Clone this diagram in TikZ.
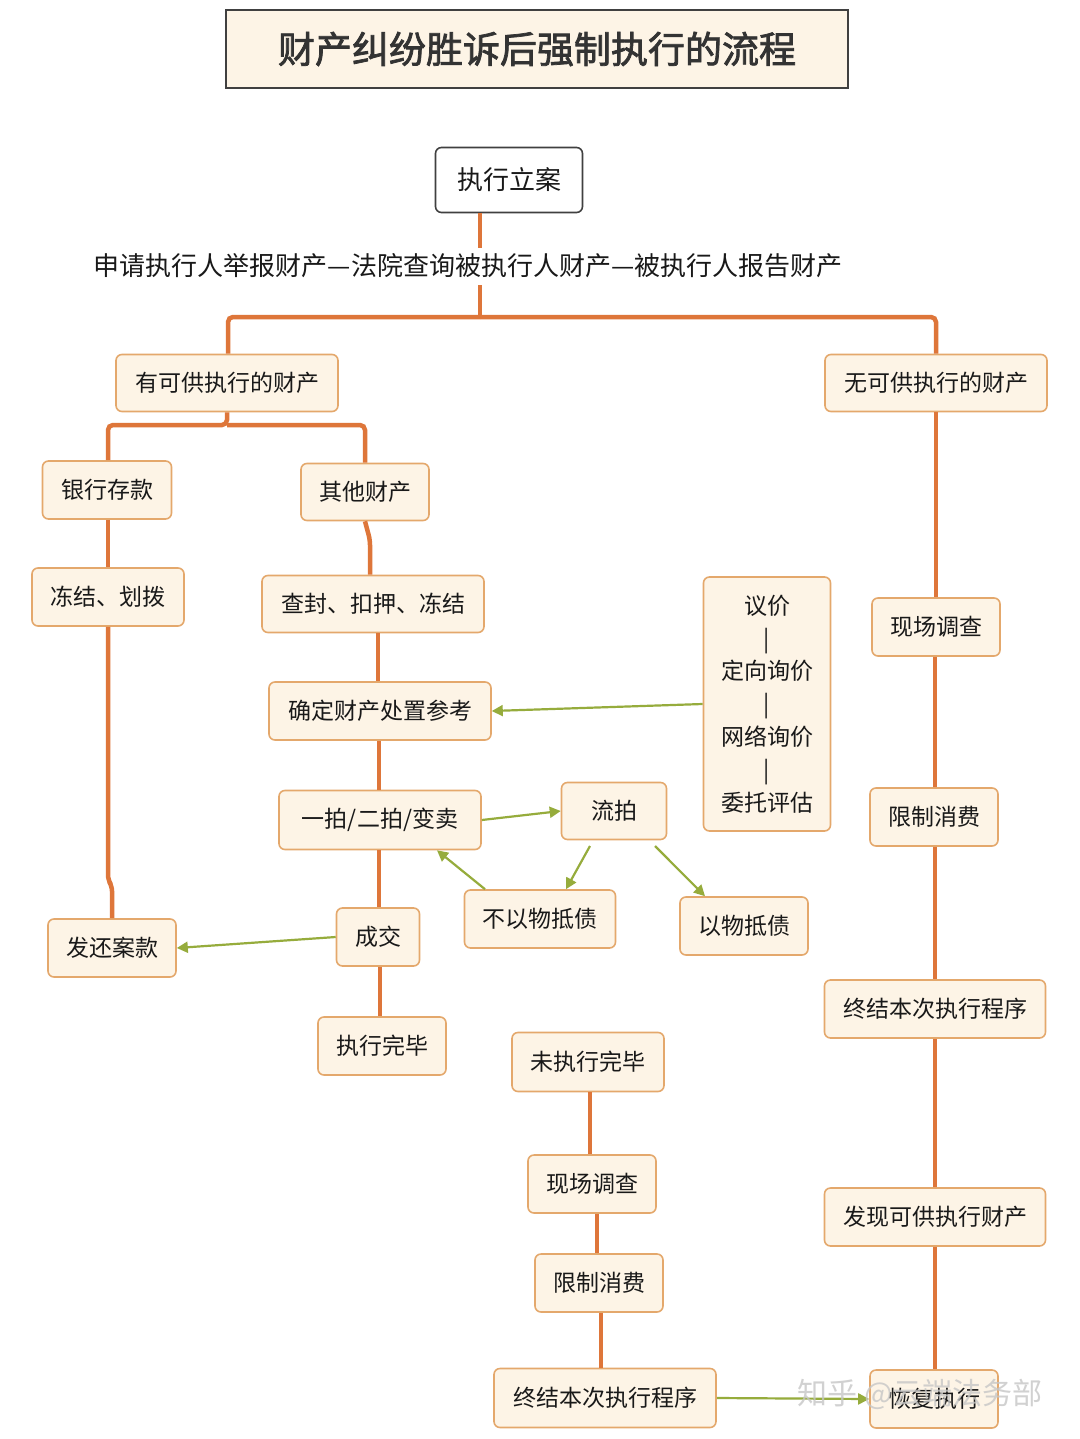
\documentclass[tikz,border=0pt]{standalone}
\usepackage{fontspec}
\setmainfont[AutoFakeBold=2]{Noto Sans CJK SC}
\usetikzlibrary{arrows.meta}
\definecolor{org}{RGB}{222,118,58}
\definecolor{bx}{RGB}{253,244,230}
\definecolor{bd}{RGB}{228,168,108}
\definecolor{grn}{RGB}{150,172,60}
\begin{document}
\begin{tikzpicture}[x=1pt,y=-1pt,
  box/.style={draw=bd,line width=1.6pt,fill=bx,rounded corners=6pt,inner sep=0pt,font=\fontsize{23}{26}\selectfont,text=black!90},
  ln/.style={draw=org,line width=4.5pt,rounded corners=5pt},
  ga/.style={draw=grn,line width=2.2pt,-{Triangle[length=11pt,width=11pt]}}]
\useasboundingbox[fill=white] (0,0) rectangle (1079,1439);
\node[draw=black!75,line width=1.8pt,fill=bx,minimum width=622,minimum height=78,inner sep=0pt,font=\fontsize{37}{40}\selectfont\bfseries,text=black!80] (title) at (537,49) {财产纠纷胜诉后强制执行的流程};
\newcommand\bx[5]{\node[box,minimum width=#3,minimum height=#4] (#1) at #2 {#5};}
\node[box,draw=black!75,fill=white,minimum width=147,minimum height=65,font=\fontsize{26}{28}\selectfont] (la) at (509,180) {执行立案};
\node[font=\fontsize{26}{28}\selectfont,text=black!90] (src) at (468,266) {申请执行人举报财产—法院查询被执行人财产—被执行人报告财产};
\bx{you}{(227,383)}{222}{57}{有可供执行的财产}
\bx{wu}{(936,383)}{222}{57}{无可供执行的财产}
\bx{yh}{(107,490)}{129}{58}{银行存款}
\bx{qt}{(365,492)}{128}{57}{其他财产}
\bx{dj}{(108,597)}{152}{58}{冻结、划拨}
\bx{cf}{(373,604)}{222}{57}{查封、扣押、冻结}
\bx{qd}{(380,711)}{222}{58}{确定财产处置参考}
\node[box,minimum width=127,minimum height=254,align=center,font=\fontsize{23}{32.8}\selectfont] (yj) at (767,704) {议价\\|\\定向询价\\|\\网络询价\\|\\委托评估};
\bx{yp}{(380,820)}{202}{59}{一拍/二拍/变卖}
\bx{lp}{(614,811)}{105}{57}{流拍}
\bx{bw}{(540,919)}{151}{58}{不以物抵债}
\bx{yw}{(744,926)}{128}{58}{以物抵债}
\bx{cj}{(378,937)}{83}{58}{成交}
\bx{fh}{(112,948)}{128}{58}{发还案款}
\bx{wb}{(382,1046)}{128}{58}{执行完毕}
\bx{wz}{(588,1062)}{152}{59}{未执行完毕}
\bx{xc}{(592,1184)}{128}{58}{现场调查}
\bx{xf}{(599,1283)}{128}{58}{限制消费}
\bx{zj}{(605,1398)}{222}{59}{终结本次执行程序}
\bx{rxc}{(936,627)}{128}{58}{现场调查}
\bx{rxf}{(934,817)}{128}{58}{限制消费}
\bx{rzj}{(935,1009)}{221}{58}{终结本次执行程序}
\bx{fx}{(935,1217)}{221}{58}{发现可供执行财产}
\bx{hf}{(934,1399)}{128}{58}{恢复执行}
% orange connectors
\coordinate (j0) at (480,317);
\path[ln] (la.south -| 480,0) -- (480,248);
\path[ln] (480,285) -- (j0);
\path[ln] (j0) -- (228,317) -- (you.north -| 228,0);
\path[ln] (j0) -- (936,317) -- (wu.north);
\path[ln] (you.south) -- (227,425) -- (108,425) -- (yh.north -| 108,0);
\path[ln] (227,425) -- (365,425) -- (qt.north);
\path[ln] (yh.south -| 108,0) -- (dj.north);
\path[ln] (dj.south) -- (108,880) -- (112,886) -- (fh.north);
\path[ln] (qt.south) -- (370,540) -- (cf.north -| 370,0);
\path[ln] (cf.south -| 378,0) -- (qd.north -| 378,0);
\path[ln] (qd.south -| 379,0) -- (yp.north -| 379,0);
\path[ln] (yp.south -| 379,0) -- (cj.north -| 379,0);
\path[ln] (cj.south -| 380,0) -- (wb.north -| 380,0);
\path[ln] (wz.south -| 590,0) -- (xc.north -| 590,0);
\path[ln] (xc.south -| 597,0) -- (xf.north -| 597,0);
\path[ln] (xf.south -| 601,0) -- (zj.north -| 601,0);
\path[ln] (wu.south) -- (rxc.north -| 936,0);
\path[ln] (rxc.south -| 935,0) -- (rxf.north -| 935,0);
\path[ln] (rxf.south -| 935,0) -- (rzj.north -| 935,0);
\path[ln] (rzj.south -| 935,0) -- (fx.north -| 935,0);
\path[ln] (fx.south -| 935,0) -- (hf.north -| 935,0);
% green arrows
\draw[ga] (yj.west) -- (qd.east);
\draw[ga] (yp.east) -- (lp.west);
\draw[ga] (590,846) -- (bw.north -| 566,0);
\draw[ga] (655,846) -- (yw.north -| 705,0);
\draw[ga] (bw.north -| 485,0) -- (yp.south -| 437,0);
\draw[ga] (cj.west) -- (fh.east);
\draw[ga] (zj.east) -- (hf.west);
\node[font=\fontsize{30}{32}\selectfont,text=gray!45,opacity=0.8] (wm) at (920,1394) {知乎 @云端法务部};
\end{tikzpicture}
\end{document}
